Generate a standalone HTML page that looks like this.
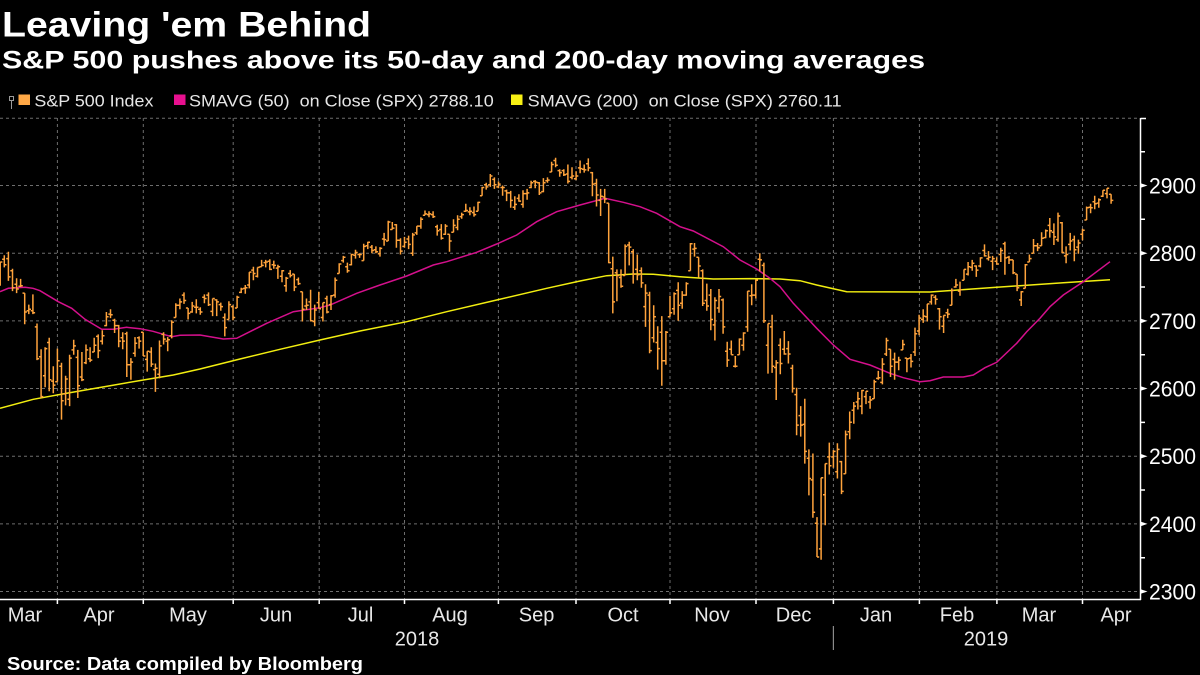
<!DOCTYPE html>
<html>
<head>
<meta charset="utf-8">
<style>
html,body{margin:0;padding:0;background:#000;}
body{width:1200px;height:675px;overflow:hidden;}
svg{display:block;}
text{font-family:"Liberation Sans",Arial,sans-serif;}
</style>
</head>
<body>
<svg width="1200" height="675" viewBox="0 0 1200 675" xmlns="http://www.w3.org/2000/svg">
<rect x="0" y="0" width="1200" height="675" fill="#000"/>
<text x="2" y="36.5" font-size="35" font-weight="bold" fill="#fff" textLength="369" lengthAdjust="spacingAndGlyphs">Leaving 'em Behind</text>
<text x="2" y="68.3" font-size="25" font-weight="bold" fill="#fff" textLength="923" lengthAdjust="spacingAndGlyphs">S&amp;P 500 pushes above its 50-day and 200-day moving averages</text>
<g stroke="#9a9a9a" stroke-width="1" fill="none">
<rect x="9.5" y="96.5" width="4" height="4"/>
<line x1="11.5" y1="100.5" x2="11.5" y2="109"/>
</g>
<rect x="18.5" y="94.5" width="11.5" height="10.5" fill="#ffa846"/>
<text x="34.4" y="106.5" font-size="17" fill="#e6e6e6" textLength="119" lengthAdjust="spacingAndGlyphs">S&amp;P 500 Index</text>
<rect x="174" y="94.5" width="11.5" height="10.5" fill="#e8108f"/>
<text x="189" y="106.5" font-size="17" fill="#e6e6e6" style="white-space:pre" textLength="304.7" lengthAdjust="spacingAndGlyphs">SMAVG (50)  on Close (SPX) 2788.10</text>
<rect x="511" y="94.5" width="11.5" height="10.5" fill="#f7f014"/>
<text x="527.7" y="106.5" font-size="17" fill="#e6e6e6" style="white-space:pre" textLength="314" lengthAdjust="spacingAndGlyphs">SMAVG (200)  on Close (SPX) 2760.11</text>

<g stroke="#6e6e6e" stroke-width="1" stroke-dasharray="3,3" fill="none">
<path d="M0 118.3H1140M0 185.5H1140M0 253.2H1140M0 320.9H1140M0 388.5H1140M0 456.2H1140M0 523.9H1140M0 591.5H1140"/>
<path d="M57.4 118V599M143.3 118V599M233.2 118V599M319.2 118V599M404.5 118V599M498.4 118V599M576 118V599M670 118V599M756 118V599M833.4 118V599M919.4 118V599M996.9 118V599M1082.5 118V599"/>
</g>

<polyline fill="none" stroke="#f2ee10" stroke-width="1.5" points="0,408.3 33.3,399.3 66.7,393.3 110,385.7 143.3,380 173.3,375 200,369 240,359 280,349.3 320,340 360,331 406.7,321.7 446.7,311.7 496.7,300 546.7,288.3 580,281 606.7,275.7 633.3,274 653.3,274.3 680,276.7 713.3,279 750,278.6 780,279 800,280.7 816.7,285 846.7,291.7 930,292 996.7,287.3 1063.3,282.7 1110,279.7"/>
<polyline fill="none" stroke="#d4108c" stroke-width="1.5" points="0,291.7 8.3,288.3 25,287.3 33,288.3 40,290.7 58.3,301.7 71.7,308.3 85,319.3 101.7,329.3 113.3,329.3 126.7,327.3 140,328.7 153,331.3 171.7,336.7 180,335.3 200,335 223.3,339 236.7,338.3 266.7,323.3 293.3,311.7 320,307.7 330,305 356.7,293.3 380,285 406.7,276 433.3,265 446.7,261.7 476.7,252.3 496.7,244 516.7,235 536.7,221.7 556.7,211.7 580,205 605,198.3 623.3,202.3 640,206.7 656.7,213.3 680,226.7 693.3,231 723.3,246.7 740,260 756.7,269 770,278.3 780,286.7 793.3,303.3 816.7,328.3 833.3,345 850,359.3 870,365 890,373.3 903.3,377.7 920,381.7 930,380.7 943.3,377 963.3,377 973.3,375 985,367.7 996.7,362.3 1016.7,343.3 1026.7,331.7 1040,318.3 1050,306.7 1063.3,295 1083.3,281.7 1110,261.7"/>

<path id="bars" fill="none" stroke="#ffa33c" stroke-width="1.5" d=""/>

<g stroke="#fff" stroke-width="1.5" fill="none">
<path d="M1140.5 118V600M1140.5 118.5H1146"/>
<path d="M1140 151.7H1145M1140 219.3H1145M1140 287H1145M1140 354.7H1145M1140 422.4H1145M1140 490H1145M1140 557.7H1145"/>
</g>
<g fill="#fff">
<path d="M1140 183L1147.5 185.5L1140 188ZM1140 250.7L1147.5 253.2L1140 255.7ZM1140 318.4L1147.5 320.9L1140 323.4ZM1140 386L1147.5 388.5L1140 391ZM1140 453.7L1147.5 456.2L1140 458.7ZM1140 521.4L1147.5 523.9L1140 526.4ZM1140 589L1147.5 591.5L1140 594Z"/>
</g>
<g font-size="22" fill="#fff">
<text x="1149" y="193.4" textLength="47" lengthAdjust="spacingAndGlyphs">2900</text>
<text x="1149" y="261.1" textLength="47" lengthAdjust="spacingAndGlyphs">2800</text>
<text x="1149" y="328.8" textLength="47" lengthAdjust="spacingAndGlyphs">2700</text>
<text x="1149" y="396.4" textLength="47" lengthAdjust="spacingAndGlyphs">2600</text>
<text x="1149" y="464.1" textLength="47" lengthAdjust="spacingAndGlyphs">2500</text>
<text x="1149" y="531.8" textLength="47" lengthAdjust="spacingAndGlyphs">2400</text>
<text x="1149" y="599.4" textLength="47" lengthAdjust="spacingAndGlyphs">2300</text>
</g>

<g stroke="#fff" stroke-width="1.5" fill="none">
<path d="M0 599.5H1141"/>
<path d="M57.4 599V604M143.3 599V604M233.2 599V604M319.2 599V604M404.5 599V604M498.4 599V604M576 599V604M670 599V604M756 599V604M833.4 599V604M919.4 599V604M996.9 599V604M1082.5 599V604"/>
</g>
<line x1="833.4" y1="626" x2="833.4" y2="650" stroke="#8a8a8a" stroke-width="1.2"/>
<g font-size="20" fill="#e8e8e8" text-anchor="middle">
<text x="25" y="621.5">Mar</text>
<text x="99" y="621.5">Apr</text>
<text x="188" y="621.5">May</text>
<text x="276" y="621.5">Jun</text>
<text x="360.5" y="621.5">Jul</text>
<text x="450" y="621.5">Aug</text>
<text x="536.6" y="621.5">Sep</text>
<text x="623" y="621.5">Oct</text>
<text x="712" y="621.5">Nov</text>
<text x="793.6" y="621.5">Dec</text>
<text x="876" y="621.5">Jan</text>
<text x="957" y="621.5">Feb</text>
<text x="1039" y="621.5">Mar</text>
<text x="1116" y="621.5">Apr</text>
<text x="417" y="645.5">2018</text>
<text x="986" y="645.5">2019</text>
</g>

<text x="7" y="670" font-size="18" font-weight="bold" fill="#fff" textLength="356" lengthAdjust="spacingAndGlyphs">Source: Data compiled by Bloomberg</text>
</svg>
<script>
(function(){
var S="753 787 752 787,791 797 779 783,792 802 759 765,774 777 744 749,754 763 741 747,751 762 750 752,741 741 695 713,715 724 710 717,715 739 710 712,691 696 642 644,647 658 586 588,619 661 602 659,668 675 596 613,611 633 593 605,610 659 610 641,633 638 554 582,592 619 575 614,584 650 574 645,657 672 650 663,646 657 586 604,617 654 611 613,638 665 636 657,644 661 639 642,654 675 654 664,677 680 645 656,670 686 665 678,693 713 692 706,710 717 704 709,701 703 682 693,693 694 661 670,675 683 658 670,681 684 617 635,635 645 613 639,652 676 647 667,675 677 659 670,683 683 648 648,643 655 625 655,654 661 632 636,628 637 595 630,621 671 615 663,680 683 665 673,670 676 655 672,678 701 674 698,705 726 705 723,723 733 717 728,738 742 725 730,719 719 702 711,713 728 712 722,720 732 711 720,717 720 709 713,735 739 726 733,738 742 722 724,714 733 707 733,731 732 707 728,724 727 715 721,705 711 677 690,702 729 702 724,721 723 701 705,719 737 719 735,742 749 741 747,748 753 740 749,753 772 748 772,775 780 760 770,766 779 764 779,780 790 780 782,786 790 779 787,788 791 775 776,783 789 777 782,778 783 762 780,766 775 757 774,752 765 743 763,770 775 764 767,769 769 744 750,761 764 753 755,743 743 699 717,722 733 716 723,728 746 699 700,699 724 692 716,727 743 718 718,705 727 699 727,733 737 711 713,724 738 716 737,738 764 734 760,770 785 770 784,789 796 786 794,780 786 771 774,783 799 782 798,797 805 792 801,798 800 793 798,789 814 789 810,811 817 806 816,809 812 800 804,805 810 800 802,799 809 795 807,821 830 811 820,818 848 818 846,835 846 835 837,842 843 808 819,819 822 798 803,810 824 808 816,821 826 806 813,800 830 796 827,830 840 827 840,840 853 836 850,856 863 856 858,857 862 853 858,857 862 852 854,839 842 826 833,835 843 820 822,828 843 827 840,828 828 802 818,831 850 831 841,838 856 834 850,854 860 851 857,862 873 861 863,861 868 856 862,860 869 854 857,862 876 862 875,885 898 885 897,901 904 894 898,901 917 898 914,909 912 895 901,898 906 896 902,897 900 885 897,892 894 877 889,889 892 867 878,868 884 864 872,881 887 876 877,872 893 867 888,888 895 879 889,897 907 896 904,906 908 896 905,904 905 886 889,891 911 890 904,907 912 904 908,920 935 920 931,937 941 927 930,922 924 913 919,922 924 914 916,917 931 903 906,912 927 909 914,910 921 908 914,926 937 918 925,924 931 919 923,932 940 921 926,919 920 884 902,903 910 869 886,878 895 855 884,883 895 874 880,874 874 785 786,777 795 711 728,771 776 729 767,764 776 749 751,767 813 767 810,812 817 782 809,802 806 755 769,776 798 760 768,774 779 749 756,721 754 691 741,738 743 652 656,675 723 668 706,668 692 628 659,683 707 604 641,641 685 635 683,706 737 706 712,718 742 709 740,745 757 700 723,726 744 718 738,738 757 737 755,774 815 774 814,806 815 795 807,794 794 764 781,774 776 722 726,730 755 715 722,738 747 686 702,694 735 671 730,719 747 712 736,731 733 681 691,655 669 632 642,658 671 650 650,633 648 631 633,650 674 650 673,664 683 656 682,691 744 684 744,737 754 723 738,738 761 733 760,791 800 773 790,782 786 697 700,664 696 622 696,691 709 623 633,631 642 583 638,664 674 621 637,658 685 650 651,659 670 637 651,630 635 594 600,591 601 531 546,560 574 529 546,547 585 489 507,497 510 442 467,465 504 409 417,401 410 351 351,363 468 347 468,443 489 398 489,499 520 473 486,499 509 483 507,477 519 467 510,492 493 444 448,474 538 474 532,536 566 525 550,568 580 548 574,580 595 569 585,574 598 562 597,588 596 577 596,580 589 570 583,585 613 585 610,615 626 613 616,609 645 606 636,651 675 648 671,658 658 617 633,643 653 613 639,639 647 627 642,657 672 657 665,645 645 624 644,645 651 631 640,654 690 648 681,685 709 679 704,702 717 697 707,706 725 699 725,728 739 724 738,735 738 724 732,718 719 687 706,692 708 682 708,712 718 704 710,723 748 723 745,750 762 749 753,744 758 737 746,760 776 760 776,769 787 767 780,779 790 774 785,781 782 765 775,781 794 779 793,804 813 795 796,792 803 789 794,788 796 775 792,788 794 783 784,798 808 787 804,814 817 768 793,794 796 784 790,790 790 769 771,769 769 744 749,731 744 722 743,748 784 748 783,787 798 787 792,800 821 800 811,811 815 803 808,811 831 811 822,823 835 822 833,841 852 823 833,831 844 812 824,820 860 817 855,845 846 800 801,796 810 785 798,813 830 804 818,820 826 788 805,809 820 799 815,828 836 819 834,849 869 849 867,868 873 859 867,876 885 865 873,874 881 867 879,884 893 883 893,888 896 881 896,887 887 873 878";
var R=S.split(",");
function Y(p){return (185.5+(900-p)*0.6767).toFixed(1);}
var s="";
for(var i=0;i<R.length;i++){
  var d=R[i].split(" ").map(Number);
  var x=0.22+i*4.084,xs=x.toFixed(1);
  s+="M"+xs+" "+Y(d[1])+"V"+Y(d[2]);
  s+="M"+(x-2.2).toFixed(1)+" "+Y(d[0])+"H"+xs;
  s+="M"+xs+" "+Y(d[3])+"H"+(x+2.2).toFixed(1);
}
document.getElementById("bars").setAttribute("d",s);
})();
</script>
</body>
</html>
